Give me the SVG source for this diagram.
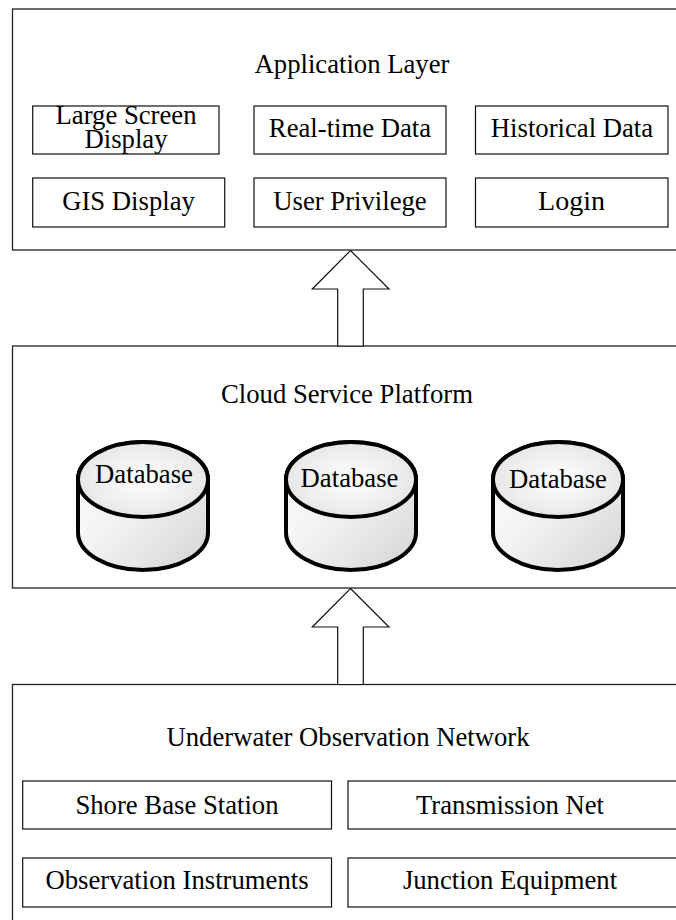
<svg xmlns="http://www.w3.org/2000/svg" xmlns:xlink="http://www.w3.org/1999/xlink" width="676" height="920" viewBox="0 0 676 920">
  <style>
    .layer { fill: #ffffff; stroke: #222; stroke-width: 1.3; }
    .box { fill: #ffffff; stroke: #111; stroke-width: 1.2; }
    .lbl { font-family: "Liberation Serif", "Times New Roman", serif; font-size: 26.7px; fill: #000; text-anchor: middle; }
    .arrow { fill: #ffffff; stroke: #111; stroke-width: 1.2; stroke-linejoin: miter; }
    .cyl { stroke: #000; stroke-width: 4; }
  </style>
  <defs>
    <linearGradient id="bodyGrad" x1="0" y1="0" x2="1" y2="1">
      <stop offset="0" stop-color="#ffffff"/>
      <stop offset="0.45" stop-color="#f3f3f3"/>
      <stop offset="1" stop-color="#d4d4d4"/>
    </linearGradient>
    <radialGradient id="topGrad" cx="0.5" cy="0.5" r="0.6">
      <stop offset="0" stop-color="#ffffff"/>
      <stop offset="1" stop-color="#e2e2e2"/>
    </radialGradient>
    <!-- cylinder centred on x=0, top ellipse centre at y=0 -->
    <g id="cylShape">
      <path class="cyl" fill="url(#bodyGrad)" d="M-65,0 V53 A65,37.5 0 0 0 65,53 V0 A65,37.5 0 0 0 -65,0 Z"/>
      <ellipse class="cyl" fill="url(#topGrad)" cx="0" cy="0" rx="65" ry="37.5"/>
    </g>
  </defs>

  <rect width="676" height="920" fill="#ffffff"/>

  <!-- Application layer -->
  <g id="application-layer">
    <rect class="layer" x="12.5" y="9" width="676" height="241"/>
    <text class="lbl" x="352" y="73">Application Layer</text>
  </g>
  <g id="large-screen-display">
    <rect class="box" x="32.7" y="106" width="186.3" height="48"/>
    <text class="lbl" x="126" y="124">Large Screen</text>
    <text class="lbl" x="126" y="148">Display</text>
  </g>
  <g id="real-time-data">
    <rect class="box" x="254" y="106" width="192" height="48"/>
    <text class="lbl" x="350" y="137">Real-time Data</text>
  </g>
  <g id="historical-data">
    <rect class="box" x="475.5" y="106" width="192.5" height="48"/>
    <text class="lbl" x="572" y="137">Historical Data</text>
  </g>
  <g id="gis-display">
    <rect class="box" x="32.7" y="178" width="192" height="49"/>
    <text class="lbl" x="128.5" y="210">GIS Display</text>
  </g>
  <g id="user-privilege">
    <rect class="box" x="254" y="178" width="192" height="49"/>
    <text class="lbl" x="350" y="210">User Privilege</text>
  </g>
  <g id="login">
    <rect class="box" x="475.5" y="178" width="192.5" height="49"/>
    <text class="lbl" x="571.5" y="210" style="font-size:28px">Login</text>
  </g>

  <!-- Cloud service platform -->
  <g id="cloud-service-platform">
    <rect class="layer" x="12.5" y="346" width="676" height="242"/>
    <text class="lbl" x="347" y="403">Cloud Service Platform</text>
  </g>
  <g id="database-1">
    <use xlink:href="#cylShape" transform="translate(143,479.5)"/>
    <text class="lbl" x="144" y="483">Database</text>
  </g>
  <g id="database-2">
    <use xlink:href="#cylShape" transform="translate(351,479.5)"/>
    <text class="lbl" x="349.5" y="487">Database</text>
  </g>
  <g id="database-3">
    <use xlink:href="#cylShape" transform="translate(558,479.5)"/>
    <text class="lbl" x="558" y="488">Database</text>
  </g>

  <!-- Underwater observation network -->
  <g id="underwater-observation-network">
    <rect class="layer" x="12.5" y="684.5" width="676" height="260"/>
    <text class="lbl" x="348" y="746">Underwater Observation Network</text>
  </g>
  <g id="shore-base-station">
    <rect class="box" x="22.7" y="781" width="308.8" height="48"/>
    <text class="lbl" x="177" y="814">Shore Base Station</text>
  </g>
  <g id="transmission-net">
    <rect class="box" x="348" y="781" width="340" height="48"/>
    <text class="lbl" x="510" y="814">Transmission Net</text>
  </g>
  <g id="observation-instruments">
    <rect class="box" x="22.7" y="858" width="308.8" height="49"/>
    <text class="lbl" x="177" y="889">Observation Instruments</text>
  </g>
  <g id="junction-equipment">
    <rect class="box" x="348" y="858" width="340" height="49"/>
    <text class="lbl" x="510" y="889">Junction Equipment</text>
  </g>

  <!-- Block arrows between layers -->
  <g id="connectors">
    <path class="arrow" d="M350.5,250.5 L389,289 H363.3 V346 H337.7 V289 H312.3 Z"/>
    <path class="arrow" d="M350.5,588.5 L389,627 H363.3 V684.5 H337.7 V627 H312.3 Z"/>
  </g>
</svg>
